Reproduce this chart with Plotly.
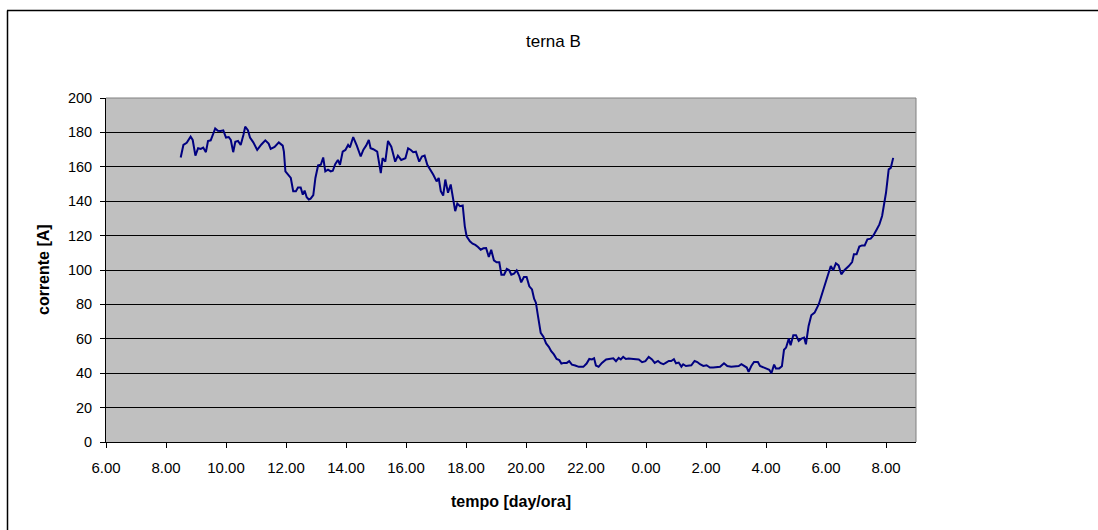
import plotly.graph_objects as go

# time in hours from midnight of day 1 (values > 24 are next day)
ore = [8.49, 8.58, 8.69, 8.82, 8.89, 8.98, 9.07, 9.16, 9.24, 9.33, 9.40, 9.49, 9.56, 9.64, 9.73, 9.82, 9.91,
       10.00, 10.09, 10.16, 10.24, 10.31, 10.40, 10.49, 10.58, 10.64, 10.73, 10.80, 10.91, 11.04, 11.18, 11.31,
       11.42, 11.49, 11.62, 11.76, 11.89, 11.93, 11.98, 12.09, 12.16, 12.24, 12.33, 12.40, 12.49, 12.56, 12.62,
       12.69, 12.76, 12.82, 12.91, 12.98, 13.07, 13.16, 13.24, 13.31, 13.40, 13.49, 13.56, 13.64, 13.73, 13.80,
       13.89, 13.98, 14.07, 14.13, 14.24, 14.36, 14.49, 14.58, 14.67, 14.76, 14.82, 14.91, 15.04, 15.16, 15.22,
       15.31, 15.40, 15.51, 15.64, 15.73, 15.84, 15.98, 16.07, 16.16, 16.24, 16.33, 16.44, 16.53, 16.62, 16.71,
       16.82, 16.91, 17.02, 17.09, 17.16, 17.24, 17.31, 17.40, 17.49, 17.58, 17.64, 17.71, 17.80, 17.89, 17.96,
       18.02, 18.13, 18.22, 18.31, 18.40, 18.49, 18.58, 18.67, 18.76, 18.84, 18.93, 19.02, 19.11, 19.18, 19.27,
       19.36, 19.44, 19.51, 19.60, 19.69, 19.78, 19.84, 19.93, 20.02, 20.11, 20.20, 20.27, 20.33, 20.40, 20.49,
       20.58, 20.67, 20.76, 20.84, 20.93, 21.02, 21.11, 21.18, 21.27, 21.36, 21.44, 21.53, 21.64, 21.76, 21.91,
       22.02, 22.11, 22.20, 22.27, 22.33, 22.42, 22.53, 22.67, 22.80, 22.91, 23.00, 23.09, 23.16, 23.24, 23.33,
       23.42, 23.58, 23.76, 23.87, 23.98, 24.09, 24.20, 24.29, 24.40, 24.49, 24.58, 24.67, 24.76, 24.84, 24.93,
       25.00, 25.09, 25.18, 25.24, 25.33, 25.42, 25.51, 25.62, 25.71, 25.80, 25.91, 26.02, 26.13, 26.24, 26.36,
       26.47, 26.60, 26.71, 26.84, 26.96, 27.09, 27.18, 27.27, 27.36, 27.42, 27.51, 27.60, 27.73, 27.80, 27.91,
       28.02, 28.11, 28.18, 28.27, 28.33, 28.44, 28.53, 28.60, 28.67, 28.76, 28.82, 28.91, 29.00, 29.09, 29.18,
       29.27, 29.33, 29.42, 29.51, 29.62, 29.76, 29.89, 30.02, 30.16, 30.24, 30.33, 30.42, 30.51, 30.62, 30.76,
       30.87, 30.93, 31.02, 31.11, 31.20, 31.29, 31.38, 31.49, 31.58, 31.69, 31.78, 31.87, 31.93, 32.00, 32.09,
       32.16, 32.24]

corrente = [165.4, 172.7, 174.0, 177.5, 175.6, 166.5, 170.8, 170.4, 171.2, 168.5, 175.0, 175.4, 178.5, 182.3,
            181.0, 180.8, 181.2, 177.0, 177.3, 175.6, 168.5, 174.6, 175.0, 172.7, 178.5, 183.3, 181.3, 177.0,
            174.2, 169.8, 173.0, 175.4, 173.5, 170.4, 171.5, 174.2, 172.3, 168.8, 157.3, 155.0, 153.5, 145.8,
            145.8, 148.0, 148.0, 143.8, 146.2, 142.3, 141.0, 141.5, 143.5, 153.5, 160.8, 161.2, 165.4, 157.3,
            158.3, 157.3, 157.7, 161.5, 164.0, 161.2, 168.8, 169.8, 172.7, 171.2, 177.3, 172.3, 166.0, 170.0,
            172.3, 175.6, 170.8, 170.2, 168.8, 156.3, 165.0, 163.0, 175.0, 171.7, 163.0, 166.5, 164.0, 165.0,
            170.8, 169.8, 168.5, 168.8, 163.0, 166.0, 166.5, 161.2, 158.3, 155.4, 151.5, 153.5, 145.8, 143.3,
            152.6, 144.9, 149.7, 139.0, 134.2, 138.6, 137.1, 137.5, 125.4, 119.6, 116.7, 115.3, 114.6, 113.4,
            111.8, 112.6, 112.8, 107.6, 111.8, 105.6, 104.5, 104.5, 97.3, 97.3, 100.6, 99.8, 97.3, 97.9, 99.8,
            96.3, 92.8, 95.9, 95.9, 90.5, 88.7, 83.3, 81.0, 73.2, 63.5, 61.2, 57.3, 55.3, 52.8, 50.9, 48.3, 47.6,
            45.6, 46.0, 46.0, 47.0, 45.0, 44.5, 43.7, 43.7, 45.6, 48.3, 48.0, 48.7, 44.5, 43.7, 46.0, 48.0, 48.5,
            48.7, 47.0, 48.9, 48.0, 49.5, 48.3, 48.5, 48.3, 48.0, 46.4, 47.0, 49.5, 48.0, 46.0, 47.1, 45.8, 45.2,
            46.2, 47.1, 47.1, 48.1, 45.8, 46.2, 43.8, 45.2, 44.2, 44.2, 44.6, 47.1, 46.5, 45.2, 44.2, 44.6, 43.3,
            43.3, 43.7, 43.7, 45.8, 44.2, 43.8, 43.8, 44.2, 45.2, 44.2, 43.3, 40.8, 44.2, 46.5, 46.5, 44.2, 43.5,
            42.7, 42.0, 40.0, 45.0, 42.8, 42.8, 44.0, 53.6, 54.9, 60.1, 56.3, 62.1, 62.1, 58.8, 60.1, 60.7, 56.8,
            67.5, 73.7, 75.2, 80.1, 86.8, 94.6, 102.3, 99.8, 103.9, 102.7, 97.5, 100.0, 102.3, 104.6, 109.1,
            109.1, 113.6, 114.3, 114.3, 117.8, 118.2, 120.1, 123.6, 126.5, 131.4, 137.2, 144.9, 158.5, 159.4,
            165.2]

tick_vals = [6, 8, 10, 12, 14, 16, 18, 20, 22, 24, 26, 28, 30, 32]
tick_text = ["6.00", "8.00", "10.00", "12.00", "14.00", "16.00", "18.00", "20.00", "22.00",
             "0.00", "2.00", "4.00", "6.00", "8.00"]

FONT = "Liberation Sans, Arial, sans-serif"

fig = go.Figure()
fig.add_trace(go.Scatter(x=ore, y=corrente, mode="lines",
                         line=dict(color="#000080", width=2), showlegend=False))

W, H = 1098, 530
L, R, T, B = 106, 182, 98, 88
pw, ph = W - L - R, H - T - B

def px(xp):
    return (xp - L) / pw

def py(yp):
    return (H - B - yp) / ph

fig.update_layout(
    width=W, height=H,
    margin=dict(l=L, r=R, t=T, b=B),
    paper_bgcolor="white",
    plot_bgcolor="#C0C0C0",
    font=dict(family=FONT, size=15, color="black"),
    xaxis=dict(range=[6, 33], tickvals=tick_vals, ticktext=tick_text,
               showgrid=False, zeroline=False, showline=True, linecolor="black", linewidth=1,
               ticks="outside", ticklen=5, tickcolor="black", ticklabelstandoff=7,
               tickfont=dict(family=FONT, size=15)),
    yaxis=dict(range=[0, 200], dtick=20, tick0=0,
               showgrid=True, gridcolor="black", gridwidth=1, zeroline=False,
               showline=True, linecolor="black", linewidth=1,
               ticks="outside", ticklen=5, tickcolor="black", ticklabelstandoff=5,
               tickfont=dict(family=FONT, size=14.5)),
    shapes=[
        dict(type="line", xref="paper", yref="paper", x0=0, x1=1, y0=1, y1=1,
             line=dict(color="#808080", width=1)),
        dict(type="line", xref="paper", yref="paper", x0=1, x1=1, y0=0, y1=1,
             line=dict(color="#808080", width=1)),
        dict(type="line", xref="paper", yref="paper", x0=px(7), x1=px(1120), y0=py(10.5), y1=py(10.5),
             line=dict(color="black", width=1.5)),
        dict(type="line", xref="paper", yref="paper", x0=px(7.5), x1=px(7.5), y0=py(10.5), y1=py(560),
             line=dict(color="black", width=1.5)),
    ],
    annotations=[
        dict(text="terna B", xref="paper", yref="paper", x=px(553), y=py(42),
             showarrow=False, xanchor="center", yanchor="middle", font=dict(family=FONT, size=17)),
        dict(text="<b>corrente [A]</b>", xref="paper", yref="paper", x=px(43), y=py(270),
             showarrow=False, xanchor="center", yanchor="middle", textangle=-90,
             font=dict(family=FONT, size=16)),
        dict(text="<b>tempo [day/ora]</b>", xref="paper", yref="paper", x=0.5, y=py(501),
             showarrow=False, xanchor="center", yanchor="middle", font=dict(family=FONT, size=16)),
    ],
)

fig.write_html("out.html")
